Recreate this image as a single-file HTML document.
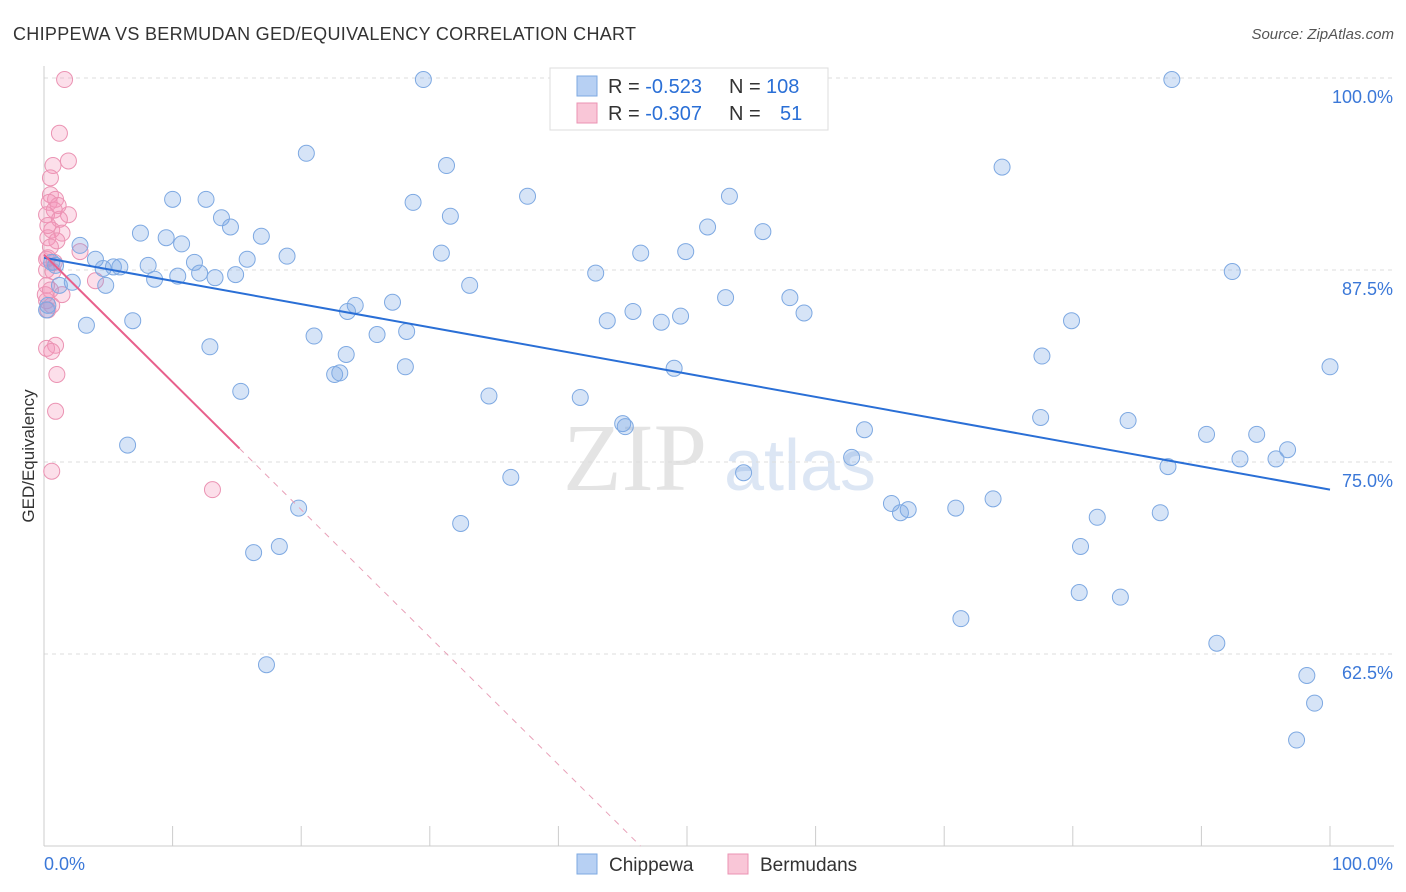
<!DOCTYPE html>
<html><head><meta charset="utf-8"><style>
body{margin:0;background:#fff;font-family:"Liberation Sans",sans-serif;}
#wrap{position:relative;width:1406px;height:892px;overflow:hidden;}
</style></head><body>
<div id="wrap">
<svg id="chart" width="1406" height="892"></svg>
</div>
<script>
const blueX=[29.5,87.7,20.4,31.3,74.5,10.0,12.6,37.6,28.7,53.3,13.8,31.6,14.5,51.6,7.5,9.5,16.9,55.9,10.7,2.8,30.9,46.4,49.9,18.9,4.0,11.7,15.8,0.6,5.4,5.9,8.1,4.6,10.4,12.1,13.3,14.9,8.6,42.9,92.4,2.2,4.8,33.1,53.0,58.0,24.2,27.1,23.6,45.8,59.1,43.8,48.0,49.5,79.9,6.9,3.3,21.0,25.9,28.2,12.9,23.5,77.6,28.1,49.0,100.0,22.6,23.0,15.3,34.6,41.7,45.0,45.2,77.5,84.3,6.5,63.8,90.4,94.3,96.7,62.8,93.0,95.8,54.4,87.4,36.3,65.9,67.2,66.6,70.9,73.8,81.9,86.8,19.8,32.4,18.3,16.3,80.6,80.5,83.7,71.3,91.2,17.3,98.2,98.8,97.4,0.2,0.3,0.9,1.2];
const blueY=[99.9,99.9,95.1,94.3,94.2,92.1,92.1,92.3,91.9,92.3,90.9,91.0,90.3,90.3,89.9,89.6,89.7,90.0,89.2,89.1,88.6,88.6,88.7,88.4,88.2,88.0,88.2,88.0,87.7,87.7,87.8,87.6,87.1,87.3,87.0,87.2,86.9,87.3,87.4,86.7,86.5,86.5,85.7,85.7,85.2,85.4,84.8,84.8,84.7,84.2,84.1,84.5,84.2,84.2,83.9,83.2,83.3,83.5,82.5,82.0,81.9,81.2,81.1,81.2,80.7,80.8,79.6,79.3,79.2,77.5,77.3,77.9,77.7,76.1,77.1,76.8,76.8,75.8,75.3,75.2,75.2,74.3,74.7,74.0,72.3,71.9,71.7,72.0,72.6,71.4,71.7,72.0,71.0,69.5,69.1,69.5,66.5,66.2,64.8,63.2,61.8,61.1,59.3,56.9,84.9,85.2,87.8,86.5];
const pinkX=[1.6,1.2,1.9,0.7,0.5,0.5,0.9,0.4,0.8,1.9,0.2,1.2,0.6,1.4,0.3,1.0,0.5,2.8,0.3,0.8,4.0,0.2,0.2,0.5,0.2,0.6,0.3,1.4,0.9,0.2,0.6,1.0,0.9,0.6,13.1,0.3,1.1,0.2,0.7,0.1];
const pinkY=[99.9,96.4,94.6,94.3,93.5,92.4,92.1,91.9,91.4,91.1,91.1,90.8,90.1,89.9,89.6,89.4,89.0,88.7,88.3,88.0,86.8,87.5,86.5,86.2,85.5,85.2,84.9,85.9,82.6,82.4,82.2,80.7,78.3,74.4,73.2,90.4,91.7,88.2,87.4,85.9];
const blueFit=[88.3,-0.151];
const pinkFit=[88.5,-0.83];
const pinkSolidEnd=15.2;
const yTicks=[100,87.5,75,62.5];
const yTickLabels=["100.0%","87.5%","75.0%","62.5%"];
const xTicks=[0,10,20,30,40,50,60,70,80,90,100];

const NS="http://www.w3.org/2000/svg";
const svg=document.getElementById('chart');
const X0=44,X1=1330,Y100=78,Y50=846;
const xs=v=>X0+(X1-X0)*v/100;
const ys=v=>Y100+(100-v)*(Y50-Y100)/50;
function mk(t,a,p){const e=document.createElementNS(NS,t);for(const k in a)e.setAttribute(k,a[k]);(p||svg).appendChild(e);return e;}

let t=mk('text',{x:13,y:40,'font-size':18,fill:'#333','letter-spacing':'0.3'});t.textContent='CHIPPEWA VS BERMUDAN GED/EQUIVALENCY CORRELATION CHART';


t=mk('text',{x:1394,y:39,'font-size':15,fill:'#555','text-anchor':'end','font-style':'italic'});t.textContent='Source: ZipAtlas.com';



t=mk('text',{x:635,y:490,'font-size':96,fill:'#e4e4e4','text-anchor':'middle','font-family':'Liberation Serif,serif'});t.textContent='ZIP';


t=mk('text',{x:800,y:490,'font-size':72,fill:'#dce6f4','text-anchor':'middle'});t.textContent='atlas';



yTicks.forEach((v,i)=>{
  const g=mk('line',{x1:X0,x2:1394,y1:ys(v),y2:ys(v),stroke:'#ddd','stroke-dasharray':'4,4'});
  
  
  const l=mk('text',{x:1393,y:ys(v)+25,'font-size':18,fill:'#3b78d8','text-anchor':'end'});l.textContent=yTickLabels[i];
  
  
});
let ax=mk('line',{x1:X0,x2:X0,y1:66,y2:846,stroke:'#ccc'});


ax=mk('line',{x1:X0,x2:1394,y1:846,y2:846,stroke:'#ccc'});


xTicks.forEach(v=>{
  const k=mk('line',{x1:xs(v),x2:xs(v),y1:826,y2:846,stroke:'#ccc'});
  
  
});
t=mk('text',{x:44,y:870,'font-size':18,fill:'#3b78d8'});t.textContent='0.0%';


t=mk('text',{x:1393,y:870,'font-size':18,fill:'#3b78d8','text-anchor':'end'});t.textContent='100.0%';


t=mk('text',{x:34,y:456,'font-size':17,fill:'#333','text-anchor':'middle',transform:'rotate(-90 34 456)'});t.textContent='GED/Equivalency';



pinkX.forEach((x,i)=>{
  const c=mk('circle',{cx:xs(x),cy:ys(pinkY[i]),r:8,fill:'rgba(244,150,185,0.3)',stroke:'#eb93b3','stroke-width':1});
  
  
});
blueX.forEach((x,i)=>{
  const c=mk('circle',{cx:xs(x),cy:ys(blueY[i]),r:8,fill:'rgba(120,165,230,0.3)',stroke:'#7ea9e2','stroke-width':1});
  
  
});

let rl=mk('line',{x1:xs(0),y1:ys(blueFit[0]),x2:xs(100),y2:ys(blueFit[0]+blueFit[1]*100),stroke:'#2a6fd6','stroke-width':2});


const pxEnd=(50-pinkFit[0])/pinkFit[1];
rl=mk('line',{x1:xs(pinkSolidEnd),y1:ys(pinkFit[0]+pinkFit[1]*pinkSolidEnd),x2:xs(pxEnd),y2:ys(50),stroke:'#e8a0b8','stroke-width':1,'stroke-dasharray':'6,6'});


rl=mk('line',{x1:xs(0),y1:ys(pinkFit[0]),x2:xs(pinkSolidEnd),y2:ys(pinkFit[0]+pinkFit[1]*pinkSolidEnd),stroke:'#e8608c','stroke-width':2});



let lg=mk('rect',{x:550,y:68,width:278,height:62,fill:'#fff',stroke:'#ddd'});


[[0,'#b7d0f3','#7ea9e2','-0.523','108'],[1,'#f9c6d7','#eb93b3','-0.307','51']].forEach(r=>{
  const y=86+r[0]*27;
  const s=mk('rect',{x:577,y:y-10,width:20,height:20,fill:r[1],stroke:r[2]});
  
  
  const tx=mk('text',{x:608,y:y+7,'font-size':20,fill:'#333'});
  tx.innerHTML='R = <tspan fill="#2a6fd6">'+r[3]+'</tspan><tspan x="729">N = </tspan><tspan x="'+(r[0]?780:766)+'" fill="#2a6fd6">'+r[4]+'</tspan>';
  
  
});

[[577,'#b7d0f3','#7ea9e2','Chippewa','legend-chippewa'],[728,'#f9c6d7','#eb93b3','Bermudans','legend-bermudans']].forEach(r=>{
  const s=mk('rect',{x:r[0],y:854,width:20,height:20,fill:r[1],stroke:r[2]});
  
  
  const tx=mk('text',{x:r[0]+32,y:871,'font-size':19,fill:'#333'});tx.textContent=r[3];
  
  
});
</script>
</body></html>
